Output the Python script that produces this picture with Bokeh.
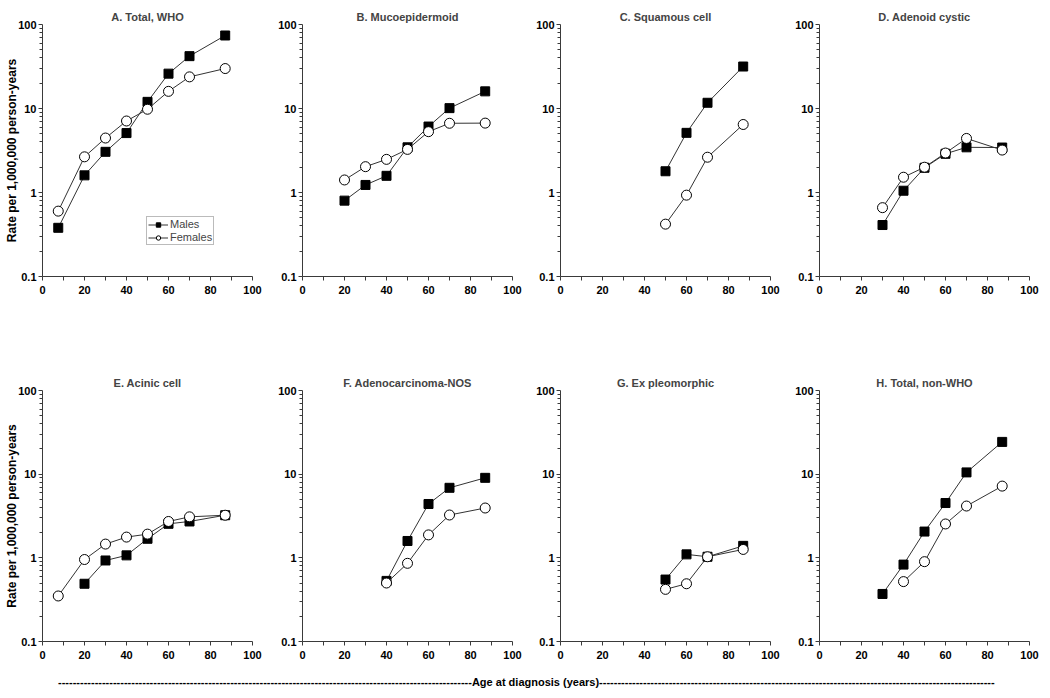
import math
from bokeh.plotting import figure
from bokeh.layouts import column, row
from bokeh.models import (Range1d, FixedTicker, CustomJSTickFormatter,
                          Legend, LegendItem, Div)
from bokeh.embed import file_html
from bokeh.resources import INLINE

# ---------------- data ----------------
titles = ["A. Total, WHO", "B. Mucoepidermoid", "C. Squamous cell", "D. Adenoid cystic",
          "E. Acinic cell", "F. Adenocarcinoma-NOS", "G. Ex pleomorphic", "H. Total, non-WHO"]

a_male_x = [7.5, 20, 30, 40, 50, 60, 70, 87]
a_male_y = [0.38, 1.6, 3.05, 5.1, 12.0, 26.0, 42.0, 74.0]
a_female_x = [7.5, 20, 30, 40, 50, 60, 70, 87]
a_female_y = [0.60, 2.66, 4.45, 7.1, 9.8, 16.0, 23.8, 29.9]

b_male_x = [20, 30, 40, 50, 60, 70, 87]
b_male_y = [0.80, 1.23, 1.58, 3.45, 6.1, 10.1, 16.0]
b_female_x = [20, 30, 40, 50, 60, 70, 87]
b_female_y = [1.41, 2.03, 2.48, 3.26, 5.3, 6.67, 6.7]

c_male_x = [50, 60, 70, 87]
c_male_y = [1.79, 5.13, 11.7, 31.6]
c_female_x = [50, 60, 70, 87]
c_female_y = [0.42, 0.93, 2.63, 6.45]

d_male_x = [30, 40, 50, 60, 70, 87]
d_male_y = [0.41, 1.05, 1.97, 2.89, 3.45, 3.43]
d_female_x = [30, 40, 50, 60, 70, 87]
d_female_y = [0.66, 1.52, 2.0, 2.95, 4.4, 3.2]

e_male_x = [20, 30, 40, 50, 60, 70, 87]
e_male_y = [0.49, 0.93, 1.07, 1.69, 2.55, 2.72, 3.23]
e_female_x = [7.5, 20, 30, 40, 50, 60, 70, 87]
e_female_y = [0.35, 0.955, 1.46, 1.77, 1.92, 2.72, 3.09, 3.23]

f_male_x = [40, 50, 60, 70, 87]
f_male_y = [0.53, 1.59, 4.4, 6.87, 9.04]
f_female_x = [40, 50, 60, 70, 87]
f_female_y = [0.50, 0.86, 1.88, 3.25, 3.94]

g_male_x = [50, 60, 70, 87]
g_male_y = [0.55, 1.10, 1.03, 1.39]
g_female_x = [50, 60, 70, 87]
g_female_y = [0.42, 0.49, 1.03, 1.26]

h_male_x = [30, 40, 50, 60, 70, 87]
h_male_y = [0.37, 0.83, 2.06, 4.52, 10.5, 24.3]
h_female_x = [40, 50, 60, 70, 87]
h_female_y = [0.52, 0.90, 2.54, 4.16, 7.2]

panels = [
    (a_male_x, a_male_y, a_female_x, a_female_y),
    (b_male_x, b_male_y, b_female_x, b_female_y),
    (c_male_x, c_male_y, c_female_x, c_female_y),
    (d_male_x, d_male_y, d_female_x, d_female_y),
    (e_male_x, e_male_y, e_female_x, e_female_y),
    (f_male_x, f_male_y, f_female_x, f_female_y),
    (g_male_x, g_male_y, g_female_x, g_female_y),
    (h_male_x, h_male_y, h_female_x, h_female_y),
]

x_ticks = [0, 20, 40, 60, 80, 100]
x_minor = [10, 30, 50, 70, 90]
y_ticks = [0.1, 1, 10, 100]
y_minor = [m * d for d in (0.1, 1, 10) for m in range(2, 10)]

y_label_text = "Rate per 1,000,000 person-years"
x_label_text = "Age at diagnosis (years)"
series_names = ["Males", "Females"]

FONT = "Liberation Sans"
AXIS_COLOR = "#3a3a3a"
LINE_COLOR = "#333333"

COL_WIDTHS = [268, 258, 259, 262]
COL_LEFT = [42, 34, 34, 34]
FRAME_W = 210
FRAME_H = 252
ROW_TOP = [24, 16]
ROW_HEIGHTS = [373, 296]


def make_panel(i):
    mx, my, fx, fy = panels[i]
    col = i % 4
    r = 0 if i < 4 else 1
    width = COL_WIDTHS[col]
    height = ROW_HEIGHTS[r]
    p = figure(width=width, height=height, y_axis_type="log",
               x_range=Range1d(0, 100), y_range=Range1d(0.1, 100),
               output_backend="svg", toolbar_location=None,
               min_border_left=COL_LEFT[col],
               min_border_right=width - COL_LEFT[col] - FRAME_W,
               min_border_top=ROW_TOP[r],
               min_border_bottom=height - ROW_TOP[r] - FRAME_H)
    p.title.text = titles[i]
    p.title.align = "center"
    p.title.text_font = FONT
    p.title.text_font_style = "bold"
    p.title.text_font_size = "11px"
    p.title.standoff = 3
    p.title.offset = 0
    p.outline_line_color = None
    p.xgrid.visible = False
    p.ygrid.visible = False
    p.background_fill_color = "white"
    p.border_fill_color = "white"

    p.xaxis.ticker = FixedTicker(ticks=x_ticks, minor_ticks=x_minor)
    p.yaxis.ticker = FixedTicker(ticks=y_ticks, minor_ticks=y_minor)
    p.yaxis.formatter = CustomJSTickFormatter(code="return String(tick);")
    for ax in (p.xaxis, p.yaxis):
        ax.axis_line_color = AXIS_COLOR
        ax.major_tick_line_color = AXIS_COLOR
        ax.minor_tick_line_color = AXIS_COLOR
        ax.major_tick_in = 0
        ax.major_tick_out = 4
        ax.minor_tick_in = 0
        ax.minor_tick_out = 3
        ax.major_label_text_font = FONT
        ax.major_label_text_font_style = "bold"
        ax.major_label_text_font_size = "11px"
        ax.major_label_text_color = "black"
    p.xaxis.minor_tick_out = 4
    p.xaxis.major_label_standoff = 5
    p.yaxis.major_label_standoff = 2

    if col == 0:
        p.yaxis.axis_label = y_label_text
        p.yaxis.axis_label_text_font = FONT
        p.yaxis.axis_label_text_font_style = "bold"
        p.yaxis.axis_label_text_font_size = "12px"
        p.yaxis.axis_label_text_color = "black"
        p.yaxis.axis_label_standoff = -4

    lm = p.line(mx, my, line_color=LINE_COLOR, line_width=1)
    sm = p.scatter(mx, my, marker="square", size=9, fill_color="black",
                   line_color="black")
    lf = p.line(fx, fy, line_color=LINE_COLOR, line_width=1)
    sf = p.scatter(fx, fy, marker="circle", size=10, fill_color="white",
                   line_color="black", line_width=1)

    if i == 0:
        legend = Legend(items=[LegendItem(label=series_names[0], renderers=[lm, sm]),
                               LegendItem(label=series_names[1], renderers=[lf, sf])],
                        location=(104, 31))
        legend.label_text_font = FONT
        legend.label_text_font_size = "11px"
        legend.glyph_width = 20
        legend.glyph_height = 11
        legend.label_height = 11
        legend.label_standoff = 2
        legend.spacing = 1
        legend.padding = 1
        legend.margin = 0
        legend.border_line_color = "#777777"
        legend.border_line_width = 1
        legend.background_fill_alpha = 1.0
        p.add_layout(legend)
    return p


figs = [make_panel(i) for i in range(8)]
row1 = row(*figs[:4], spacing=0)
row2 = row(*figs[4:], spacing=0)

dash_left = "-" * 113
dash_right = "-" * 108
div = Div(text=dash_left + x_label_text + dash_right, width=1040, height=16,
          styles={"font-family": FONT, "font-weight": "bold", "font-size": "11px",
                  "white-space": "nowrap", "padding-left": "53px", "color": "black",
                  "line-height": "16px", "overflow": "hidden"})

layout = column(row1, row2, div, spacing=0)

open("out.html", "w").write(file_html(layout, INLINE))
